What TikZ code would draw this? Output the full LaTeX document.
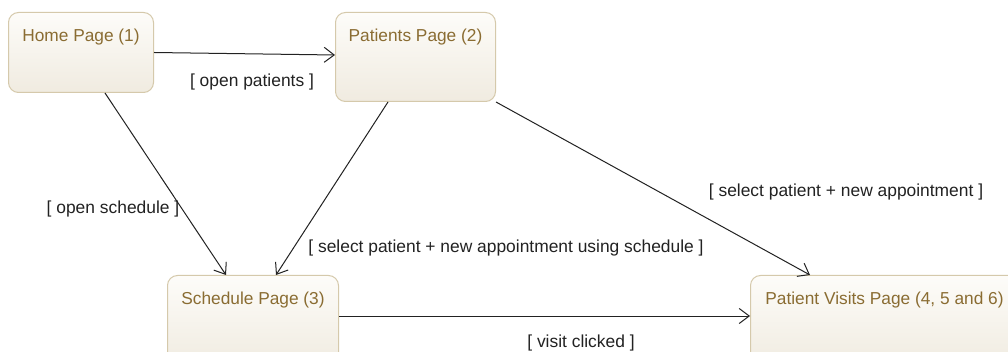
\documentclass[tikz,border=0pt]{standalone}
\usepackage{fontspec}
\setmainfont{Liberation Sans}
\usetikzlibrary{arrows.meta,calc}
\definecolor{pagetext}{HTML}{8A6C32}
\definecolor{pageedge}{HTML}{D5C9AB}
\definecolor{pagetop}{HTML}{FDFCF9}
\definecolor{pagebottom}{HTML}{F0EBE0}
\definecolor{flowline}{HTML}{222222}
\tikzset{
  pagebox/.style={draw=pageedge, line width=1pt, rounded corners=10pt,
    top color=pagetop, bottom color=pagebottom, anchor=north west,
    inner xsep=0pt, inner ysep=0pt, text=pagetext, font=\fontsize{17.3}{20}\selectfont,
    text height=29pt},
  flow/.style={draw=flowline, line width=1pt,
    -{Straight Barb[length=10pt,width=15pt,line width=1pt]}},
  guard/.style={text=flowline, font=\fontsize{17.4}{20}\selectfont, inner sep=0pt}
}
\begin{document}
\begin{tikzpicture}[x=1pt,y=-1pt]
\useasboundingbox (0,0) rectangle (1008,352);
\clip (0,0) rectangle (1008,352);
\fill[white] (0,0) rectangle (1008,352);

% pages
\node[pagebox, minimum width=145pt, minimum height=80pt, text depth=51pt]
  (home) at (8,12) {Home Page (1)};
\node[pagebox, minimum width=160pt, minimum height=89pt, text depth=60pt]
  (patients) at (335,12) {Patients Page (2)};
\node[pagebox, minimum width=171pt, minimum height=92pt, text depth=63pt]
  (schedule) at (167,275) {Schedule Page (3)};
\node[pagebox, minimum width=268pt, minimum height=92pt, text depth=63pt]
  (visits) at (750,275) {Patient Visits Page (4, 5 and 6)};

% transitions
\draw[flow] (home.east) -- ($(patients.north west)+(0,43)$);
\draw[flow] ($(home.south west)+(97,0)$) -- ($(schedule.north west)+(59,0)$);
\draw[flow] ($(patients.south west)+(53,0)$) -- ($(schedule.north west)+(109,0)$);
\draw[flow] (patients.south east) -- ($(visits.north west)+(60,0)$);
\draw[flow] ($(schedule.north east)+(0,41)$) -- ($(visits.north west)+(0,41)$);

% guards
\node[guard] (g1) at (252,82) {[ open patients ]};
\node[guard] (g2) at (113,209) {[ open schedule ]};
\node[guard] (g3) at (506,248) {[ select patient + new appointment using schedule ]};
\node[guard] (g4) at (846,192) {[ select patient + new appointment ]};
\node[guard] (g5) at (581,343) {[ visit clicked ]};
\end{tikzpicture}
\end{document}
